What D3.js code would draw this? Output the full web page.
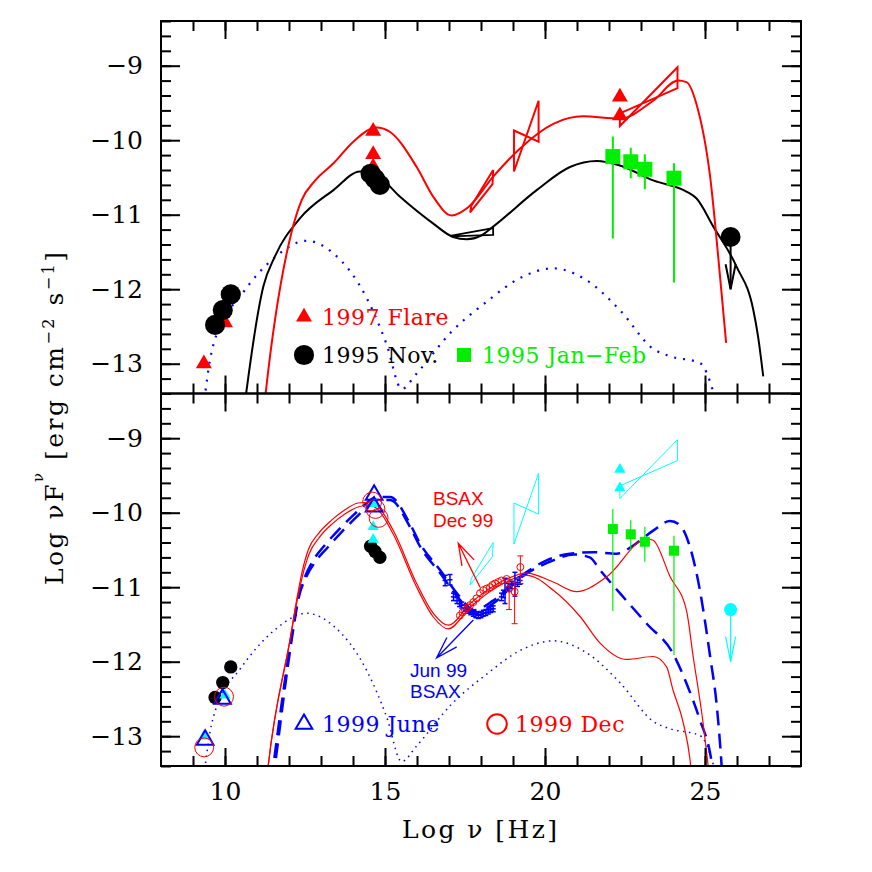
<!DOCTYPE html>
<html>
<head>
<meta charset="utf-8">
<script src="https://cdn.jsdelivr.net/npm/d3@7"></script>
<style>
  body { margin: 0; background: #fff; }
  svg { display: block; }
  .axis line { stroke: #000; stroke-width: 2; }
</style>
</head>
<body>
<svg id="sed"></svg>
<script>
// ---------- data (log nu [Hz], log nuFnu) ----------
const xTickValues = [10, 15, 20, 25];
const yTickValues = [-13, -12, -11, -10, -9];

const flare1997 = [[9.34, -13.0], [10.0, -12.45], [14.63, -9.88], [14.63, -10.19], [14.63, -10.36], [22.34, -9.42], [22.34, -9.67]];
const nov1995 = [[9.69, -12.48], [9.93, -12.28], [10.18, -12.07], [14.55, -10.45], [14.69, -10.52], [14.84, -10.6]];
// x, y, arrow end
const nov1995Limit = [[25.8, -11.3, -12.0]];
// x, y, low, high
const janFeb1995 = [[22.12, -10.22, -9.95, -11.32], [22.68, -10.29, -10.1, -10.51], [23.12, -10.39, -10.19, -10.66], [24.03, -10.51, -10.31, -11.91]];

const june1999 = [[9.38, -13.05], [9.92, -12.5], [14.66, -9.76], [14.66, -9.92]];
const dec1999 = [[9.35, -13.15], [9.97, -12.47], [14.6, -9.85], [14.7, -9.95], [14.8, -10.07]];

// BeppoSAX June 99: x, y, half error
const junBsax = [[16.88, -10.91, 0.07], [17.03, -10.9, 0.07], [17.14, -11.13, 0.05], [17.25, -11.18, 0.04], [17.33, -11.22, 0.04],
  [17.4, -11.24, 0.04], [17.5, -11.28, 0.04], [17.6, -11.31, 0.04], [17.68, -11.33, 0.04], [17.76, -11.35, 0.04],
  [17.84, -11.37, 0.04], [17.92, -11.38, 0.04], [18.0, -11.37, 0.04], [18.07, -11.35, 0.04], [18.15, -11.34, 0.04],
  [18.23, -11.32, 0.04], [18.3, -11.3, 0.04], [18.38, -11.29, 0.04], [18.64, -11.13, 0.05], [18.7, -11.09, 0.05],
  [18.75, -11.05, 0.17], [18.85, -11.0, 0.05], [18.95, -10.97, 0.05], [19.06, -10.96, 0.16], [19.14, -10.94, 0.05], [19.22, -10.91, 0.05]];
// BeppoSAX Dec 99
const decBsax = [[17.34, -11.38], [17.42, -11.34], [17.5, -11.31], [17.58, -11.27], [17.66, -11.24], [17.76, -11.2], [17.86, -11.15],
  [17.97, -11.08], [18.07, -11.04], [18.17, -11.02], [18.28, -11.0], [18.36, -10.97], [18.44, -10.95], [18.54, -10.93], [18.64, -10.91], [18.8, -10.89]];
const decBsaxErr = [[18.88, -11.02, -10.9, -11.3], [19.05, -11.06, -10.93, -11.49], [19.23, -10.73, -10.58, -10.95]];

// bow ties, corners in drawing order
const bowSoft = [[17.7, -10.88], [18.38, -10.4], [18.36, -10.59], [17.66, -10.97]];
const bowHard = [[19.03, -9.87], [19.8, -10.02], [19.8, -9.47], [19.03, -10.42]];
const bowGamma = [[22.34, -9.64], [24.14, -9.3], [24.14, -9.02], [22.34, -9.81]];
const bowNov1995 = [[17.08, -11.28], [18.38, -11.18], [18.38, -11.27], [17.08, -11.29]];

// arrows: tail, tip
const decArrow = [[17.97, -11.0], [17.29, -10.41]];
const junArrow = [[17.76, -11.44], [16.61, -11.95]];

// model curves
const modelFlare1997 = [[11.22, -13.6], [11.27, -13.4], [12.1, -11.2], [12.4, -10.8], [12.8, -10.55], [13.39, -10.31], [14.01, -10.02],
  [14.74, -9.83], [15.16, -9.89], [15.99, -10.36], [16.51, -10.76], [17.08, -11.01], [17.6, -10.9], [18.38, -10.49], [19.22, -10.11],
  [20.26, -9.78], [21.19, -9.68], [22.34, -9.71], [23.38, -9.47], [24.16, -9.2], [24.42, -9.22], [24.73, -9.51], [25.16, -10.49],
  [25.47, -11.83], [25.66, -12.72]];
const modelNov1995 = [[10.6, -13.6], [10.66, -13.4], [11.2, -11.96], [11.56, -11.56], [12.34, -11.05], [13.39, -10.67], [14.22, -10.42],
  [14.74, -10.47], [15.47, -10.76], [16.51, -11.12], [17.13, -11.3], [17.55, -11.33], [18.0, -11.28], [18.38, -11.16], [19.74, -10.67],
  [20.78, -10.36], [21.62, -10.28], [22.34, -10.34], [23.38, -10.54], [24.42, -10.69], [24.73, -10.78], [25.26, -11.16], [25.99, -11.7],
  [26.51, -12.28], [26.66, -12.64], [26.82, -13.17]];
const modelComponent = [[9.32, -13.6], [9.38, -13.4], [9.53, -12.95], [9.74, -12.6], [10.47, -12.1], [11.51, -11.59], [12.55, -11.35],
  [13.39, -11.52], [14.43, -12.12], [15.05, -12.74], [15.52, -13.34], [15.99, -13.13], [17.08, -12.57], [18.17, -12.17], [19.22, -11.85],
  [20.26, -11.72], [21.3, -11.88], [22.34, -12.28], [23.38, -12.8], [23.91, -12.9], [24.84, -12.99], [25.26, -13.38], [25.4, -13.6]];
const modelDec1999a = [[11.3, -13.6], [11.35, -13.4], [12.03, -11.71], [12.24, -11.17], [12.4, -10.81], [12.6, -10.5], [12.92, -10.28],
  [13.33, -10.1], [13.75, -9.96], [14.16, -9.87], [14.5, -9.86], [14.74, -9.9], [15.26, -10.24], [15.99, -10.95], [16.51, -11.35],
  [16.98, -11.51], [17.66, -11.22], [18.7, -10.91], [19.43, -10.81], [20.26, -10.93], [20.99, -11.06], [21.93, -10.86], [23.18, -10.35],
  [23.38, -10.37], [23.91, -10.86], [24.42, -11.31], [24.63, -11.93], [24.94, -12.82], [25.1, -13.4], [25.15, -13.6]];
const modelDec1999b = [[11.3, -13.6], [11.35, -13.4], [12.03, -11.71], [12.25, -11.19], [12.42, -10.85], [12.63, -10.55], [12.95, -10.33],
  [13.35, -10.15], [13.77, -10.01], [14.18, -9.92], [14.5, -9.9], [14.74, -9.94], [15.26, -10.29], [15.99, -11.0], [16.51, -11.4],
  [16.98, -11.56], [17.66, -11.27], [18.7, -10.95], [19.43, -10.84], [20.26, -11.04], [21.09, -11.39], [21.72, -11.75], [22.55, -11.97],
  [23.38, -11.93], [23.8, -12.07], [24.0, -12.38], [24.32, -12.82], [24.53, -13.31], [24.6, -13.6]];
const modelJun1999a = [[11.45, -13.6], [11.51, -13.4], [12.08, -11.66], [12.29, -11.13], [12.5, -10.86], [12.77, -10.63], [13.13, -10.43],
  [13.55, -10.23], [14.02, -10.03], [14.4, -9.88], [14.74, -9.79], [15.16, -9.79], [15.78, -10.15], [16.09, -10.41], [16.72, -10.77],
  [17.34, -11.13], [17.76, -11.31], [18.38, -11.18], [19.22, -10.86], [20.05, -10.64], [20.78, -10.55], [21.51, -10.53], [22.24, -10.55],
  [22.76, -10.44], [23.38, -10.24], [23.91, -10.11], [24.22, -10.17], [24.53, -10.46], [24.84, -11.04], [25.16, -11.93], [25.37, -12.6],
  [25.52, -13.4], [25.55, -13.6]];
const modelJun1999b = [[11.5, -13.6], [11.56, -13.4], [12.1, -11.66], [12.31, -11.13], [12.53, -10.87], [12.82, -10.66], [13.2, -10.47],
  [13.62, -10.27], [14.08, -10.07], [14.45, -9.92], [14.74, -9.83], [15.16, -9.83], [15.78, -10.19], [16.09, -10.45], [16.72, -10.81],
  [17.34, -11.17], [17.76, -11.35], [18.38, -11.22], [19.22, -10.88], [20.26, -10.64], [20.9, -10.56], [21.4, -10.6], [21.72, -10.77],
  [22.34, -11.08], [23.18, -11.49], [24.0, -11.89], [24.42, -12.29], [24.84, -12.78], [25.16, -13.23], [25.3, -13.6]];

// ---------- layout ----------
let config = { 'svg': {}, 'plot': {}, 'top': {}, 'bottom': {} };
config.svg.width = 872;
config.svg.height = 872;
config.plot.left = 161;
config.plot.right = 801;
config.top.y0 = 21;
config.top.y1 = 393.5;
config.bottom.y0 = 393.5;
config.bottom.y1 = 766;

const RED = '#ff0000', BLUE = '#0000ff', GREEN = '#00ee00', CYAN = '#00ffff';
const SERIF = '"DejaVu Serif", serif';
const SANS = '"Liberation Sans", Arial, sans-serif';

let svg = d3.select('svg#sed')
  .attr('width', config.svg.width)
  .attr('height', config.svg.height);

let scale = {};
scale.x = d3.scaleLinear().domain([8, 28]).range([config.plot.left, config.plot.right]);
scale.yTop = d3.scaleLinear().domain([-13.4, -8.4]).range([config.top.y1, config.top.y0]);
scale.yBottom = d3.scaleLinear().domain([-13.4, -8.4]).range([config.bottom.y1, config.bottom.y0]);

let defs = svg.append('defs');
addClip('clipTop', config.top);
addClip('clipBottom', config.bottom);

function addClip(id, panel) {
  defs.append('clipPath').attr('id', id)
    .append('rect')
    .attr('x', config.plot.left)
    .attr('y', panel.y0)
    .attr('width', config.plot.right - config.plot.left)
    .attr('height', panel.y1 - panel.y0);
}

drawTop();
drawBottom();
drawFrame(scale.yTop, config.top, false);
drawFrame(scale.yBottom, config.bottom, true);
drawTitles();

// ---------- panels ----------
function drawTop() {
  let y = scale.yTop;
  let g = svg.append('g').attr('clip-path', 'url(#clipTop)');

  curve(g, y, modelComponent, BLUE, 2.2, '2,7');
  curve(g, y, modelNov1995, '#000', 2, null);
  curve(g, y, modelFlare1997, RED, 2, null);

  bowtie(g, y, bowNov1995, '#000', 1.8);
  bowtie(g, y, bowSoft, RED, 2);
  bowtie(g, y, bowHard, RED, 2);
  bowtie(g, y, bowGamma, RED, 2);

  errorSquares(g, y, janFeb1995, 15, 2);
  symbols(g, y, flare1997, d3.symbolTriangle, 110, RED, true);
  symbols(g, y, nov1995, d3.symbolCircle, 320, '#000', true);
  upperLimit(g, y, nov1995Limit, 10, '#000', 2);

  // legend
  legendSymbol(304, 317, d3.symbolTriangle, 110, RED, true);
  legendText(322, 325, '1997 Flare', RED);
  legendSymbol(304, 355, d3.symbolCircle, 320, '#000', true);
  legendText(322, 363, '1995 Nov.', '#000');
  legendSymbol(464, 355, d3.symbolSquare, 200, GREEN, true);
  legendText(482, 363, '1995 Jan−Feb', GREEN);
}

function drawBottom() {
  let y = scale.yBottom;
  let g = svg.append('g').attr('clip-path', 'url(#clipBottom)');

  curve(g, y, modelComponent, BLUE, 1.5, '1.5,4.5');
  curve(g, y, modelJun1999b, BLUE, 2.5, '15,8');
  curve(g, y, modelJun1999a, BLUE, 2.5, '15,8');
  curve(g, y, modelDec1999b, RED, 1.2, null);
  curve(g, y, modelDec1999a, RED, 1.2, null);

  bowtie(g, y, bowSoft, CYAN, 1);
  bowtie(g, y, bowHard, CYAN, 1);
  bowtie(g, y, bowGamma, CYAN, 1);

  errorSquares(g, y, janFeb1995, 10, 1.2);
  symbols(g, y, nov1995, d3.symbolCircle, 140, '#000', true);
  symbols(g, y, flare1997, d3.symbolTriangle, 55, CYAN, true);
  upperLimit(g, y, nov1995Limit, 6.5, CYAN, 1.2);

  // BeppoSAX June 99
  let jun = g.append('g').attr('stroke', BLUE).attr('stroke-width', 1.5);
  junBsax.forEach(function(d) {
    let cx = scale.x(d[0]);
    jun.append('line').attr('x1', cx).attr('x2', cx).attr('y1', y(d[1] + d[2])).attr('y2', y(d[1] - d[2]));
    jun.append('line').attr('x1', scale.x(d[0] - 0.08)).attr('x2', scale.x(d[0] + 0.08)).attr('y1', y(d[1])).attr('y2', y(d[1]));
    jun.append('line').attr('x1', cx - 2.5).attr('x2', cx + 2.5).attr('y1', y(d[1] + d[2])).attr('y2', y(d[1] + d[2]));
    jun.append('line').attr('x1', cx - 2.5).attr('x2', cx + 2.5).attr('y1', y(d[1] - d[2])).attr('y2', y(d[1] - d[2]));
  });

  // BeppoSAX Dec 99
  let dec = g.append('g').attr('stroke', RED).attr('stroke-width', 1).attr('fill', 'none');
  dec.selectAll('circle.pt')
    .data(decBsax)
    .enter()
    .append('circle')
    .attr('cx', d => scale.x(d[0]))
    .attr('cy', d => y(d[1]))
    .attr('r', 3.5);
  decBsaxErr.forEach(function(d) {
    let cx = scale.x(d[0]);
    dec.append('circle').attr('cx', cx).attr('cy', y(d[1])).attr('r', 3.5);
    dec.append('line').attr('x1', cx).attr('x2', cx).attr('y1', y(d[2])).attr('y2', y(d[3]));
    dec.append('line').attr('x1', cx - 3).attr('x2', cx + 3).attr('y1', y(d[2])).attr('y2', y(d[2]));
    dec.append('line').attr('x1', cx - 3).attr('x2', cx + 3).attr('y1', y(d[3])).attr('y2', y(d[3]));
  });

  symbols(g, y, june1999, d3.symbolTriangle, 120, BLUE, false);
  symbols(g, y, dec1999, d3.symbolCircle, 280, RED, false, 1);

  arrow(g, y, decArrow, RED, 1.3);
  arrow(g, y, junArrow, BLUE, 1.3);

  svg.append('text').attr('x', 433).attr('y', 505).attr('fill', RED)
    .attr('font-family', SANS).attr('font-size', 19).text('BSAX');
  svg.append('text').attr('x', 433).attr('y', 527).attr('fill', RED)
    .attr('font-family', SANS).attr('font-size', 19).text('Dec 99');
  svg.append('text').attr('x', 410).attr('y', 677).attr('fill', BLUE)
    .attr('font-family', SANS).attr('font-size', 19).text('Jun 99');
  svg.append('text').attr('x', 410).attr('y', 698).attr('fill', BLUE)
    .attr('font-family', SANS).attr('font-size', 19).text('BSAX');

  // legend
  legendSymbol(304, 724, d3.symbolTriangle, 120, BLUE, false);
  legendText(322, 732, '1999 June', BLUE);
  legendSymbol(497, 724, d3.symbolCircle, 300, RED, false);
  legendText(515, 732, '1999 Dec', RED);
}

// ---------- helpers ----------
function curve(g, y, data, color, width, dash) {
  let line = d3.line()
    .x(d => scale.x(d[0]))
    .y(d => y(d[1]))
    .curve(d3.curveMonotoneX);
  g.append('path')
    .datum(data)
    .attr('d', line)
    .attr('fill', 'none')
    .attr('stroke', color)
    .attr('stroke-width', width)
    .attr('stroke-dasharray', dash);
}

function bowtie(g, y, corners, color, width) {
  let line = d3.line().x(d => scale.x(d[0])).y(d => y(d[1]));
  g.append('path')
    .attr('d', line(corners) + 'Z')
    .attr('fill', 'none')
    .attr('stroke', color)
    .attr('stroke-width', width)
    .attr('stroke-linejoin', 'miter');
}

function symbols(g, y, data, type, size, color, filled, width) {
  g.selectAll(null)
    .data(data)
    .enter()
    .append('path')
    .attr('d', d3.symbol().type(type).size(size))
    .attr('transform', d => translate(scale.x(d[0]), y(d[1])))
    .attr('fill', filled ? color : 'none')
    .attr('stroke', filled ? 'none' : color)
    .attr('stroke-width', width || 2);
}

function errorSquares(g, y, data, side, width) {
  let bars = g.append('g').attr('stroke', GREEN).attr('stroke-width', width);
  bars.selectAll('line')
    .data(data)
    .enter()
    .append('line')
    .attr('x1', d => scale.x(d[0]))
    .attr('x2', d => scale.x(d[0]))
    .attr('y1', d => y(d[2]))
    .attr('y2', d => y(d[3]));
  g.selectAll(null)
    .data(data)
    .enter()
    .append('rect')
    .attr('x', d => scale.x(d[0]) - side / 2)
    .attr('y', d => y(d[1]) - side / 2)
    .attr('width', side)
    .attr('height', side)
    .attr('fill', GREEN);
}

function upperLimit(g, y, data, r, color, width) {
  data.forEach(function(d) {
    let cx = scale.x(d[0]);
    let tip = y(d[2]);
    g.append('circle').attr('cx', cx).attr('cy', y(d[1])).attr('r', r).attr('fill', color);
    g.append('line').attr('x1', cx).attr('x2', cx).attr('y1', y(d[1])).attr('y2', tip)
      .attr('stroke', color).attr('stroke-width', width);
    g.append('path')
      .attr('d', 'M' + (cx - 5) + ',' + (tip - 25) + 'L' + cx + ',' + tip + 'L' + (cx + 5) + ',' + (tip - 25))
      .attr('fill', 'none').attr('stroke', color).attr('stroke-width', width);
  });
}

function arrow(g, y, ends, color, width) {
  let x1 = scale.x(ends[0][0]), y1 = y(ends[0][1]);
  let x2 = scale.x(ends[1][0]), y2 = y(ends[1][1]);
  let a = Math.atan2(y1 - y2, x1 - x2);
  let len = 23, spread = 0.3;
  let b1 = [x2 + len * Math.cos(a + spread), y2 + len * Math.sin(a + spread)];
  let b2 = [x2 + len * Math.cos(a - spread), y2 + len * Math.sin(a - spread)];
  g.append('path')
    .attr('d', 'M' + x1 + ',' + y1 + 'L' + x2 + ',' + y2 +
      'M' + b1[0] + ',' + b1[1] + 'L' + x2 + ',' + y2 + 'L' + b2[0] + ',' + b2[1])
    .attr('fill', 'none')
    .attr('stroke', color)
    .attr('stroke-width', width);
}

function legendSymbol(x, y, type, size, color, filled) {
  svg.append('path')
    .attr('d', d3.symbol().type(type).size(size))
    .attr('transform', translate(x, y))
    .attr('fill', filled ? color : 'none')
    .attr('stroke', filled ? 'none' : color)
    .attr('stroke-width', 2);
}

function legendText(x, y, label, color) {
  svg.append('text')
    .attr('x', x)
    .attr('y', y)
    .attr('fill', color)
    .attr('font-family', SERIF)
    .attr('font-size', 22)
    .attr('letter-spacing', 0.5)
    .text(label);
}

function drawFrame(y, panel, showX) {
  let xMinor = d3.range(9, 28);
  let yMinor = d3.range(-67, -41).map(k => k / 5);
  let w = config.plot.right - config.plot.left;

  tickAxis(d3.axisBottom(scale.x), xMinor, 10, 0, panel.y1);
  tickAxis(d3.axisBottom(scale.x), xTickValues, 18, 0, panel.y1);
  tickAxis(d3.axisTop(scale.x), xMinor, 10, 0, panel.y0);
  tickAxis(d3.axisTop(scale.x), xTickValues, 18, 0, panel.y0);
  tickAxis(d3.axisLeft(y), yMinor, 10, config.plot.left, 0);
  tickAxis(d3.axisLeft(y), yTickValues, 19, config.plot.left, 0);
  tickAxis(d3.axisRight(y), yMinor, 10, config.plot.right, 0);
  tickAxis(d3.axisRight(y), yTickValues, 19, config.plot.right, 0);

  svg.append('g')
    .attr('transform', translate(config.plot.left, 0))
    .call(d3.axisLeft(y).tickValues(yTickValues).tickSize(0).tickPadding(18).tickFormat(d3.format('d')))
    .call(a => a.select('.domain').remove())
    .attr('font-family', SERIF)
    .attr('font-size', 25);

  if (showX) {
    svg.append('g')
      .attr('transform', translate(0, panel.y1))
      .call(d3.axisBottom(scale.x).tickValues(xTickValues).tickSize(0).tickPadding(16).tickFormat(d3.format('d')))
      .call(a => a.select('.domain').remove())
      .attr('font-family', SERIF)
      .attr('font-size', 25);
  }

  svg.append('rect')
    .attr('x', config.plot.left)
    .attr('y', panel.y0)
    .attr('width', w)
    .attr('height', panel.y1 - panel.y0)
    .attr('fill', 'none')
    .attr('stroke', '#000')
    .attr('stroke-width', 2);
}

function tickAxis(axis, values, size, tx, ty) {
  svg.append('g')
    .attr('class', 'axis')
    .attr('transform', translate(tx, ty))
    .call(axis.tickValues(values).tickSize(-size).tickFormat(''))
    .call(a => a.select('.domain').remove());
}

function drawTitles() {
  svg.append('text')
    .attr('x', 402)
    .attr('y', 838)
    .attr('font-family', SERIF)
    .attr('font-size', 25)
    .attr('textLength', 155)
    .attr('lengthAdjust', 'spacing')
    .text('Log ν [Hz]');

  let t = svg.append('text')
    .attr('transform', translate(63, 585) + ' rotate(-90)')
    .attr('font-family', SERIF)
    .attr('font-size', 25)
    .attr('textLength', 333)
    .attr('lengthAdjust', 'spacing');
  t.append('tspan').text('Log νF');
  t.append('tspan').attr('font-size', 15).attr('dy', -20).text('ν');
  t.append('tspan').attr('dy', 20).text(' [erg cm');
  t.append('tspan').attr('font-size', 16).attr('dy', -9).text('−2');
  t.append('tspan').attr('dy', 9).text(' s');
  t.append('tspan').attr('font-size', 16).attr('dy', -9).text('−1');
  t.append('tspan').attr('dy', 9).text(']');
}

function translate(x, y) {
  return 'translate(' + x + ',' + y + ')';
}
</script>
</body>
</html>
